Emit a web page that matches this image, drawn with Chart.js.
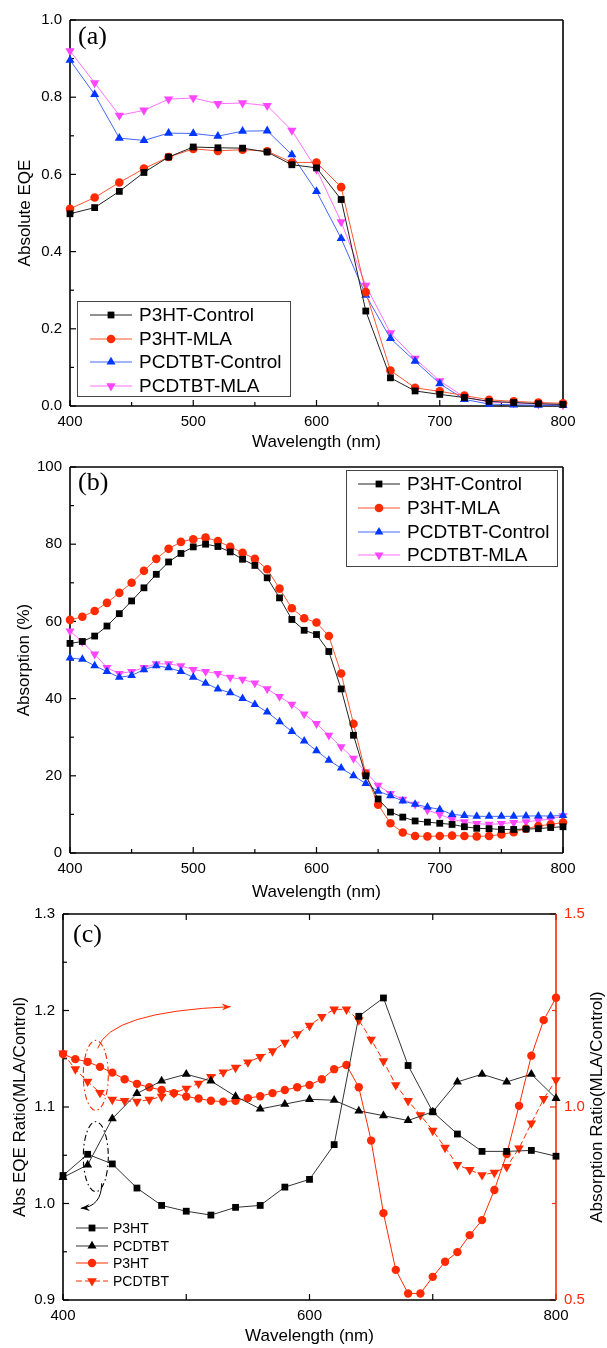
<!DOCTYPE html>
<html><head><meta charset="utf-8">
<script src="https://cdn.jsdelivr.net/npm/chart.js@4.4.1/dist/chart.umd.min.js"></script>
<style>
html,body{margin:0;padding:0;background:#fff;}
body{width:607px;height:1348px;position:relative;overflow:hidden;}
canvas{position:absolute;left:0;}
</style></head><body>
<canvas id="ca" style="top:0px" width="607" height="460"></canvas>
<canvas id="cb" style="top:447px" width="607" height="460"></canvas>
<canvas id="cc" style="top:894px" width="607" height="454"></canvas>
<script>
// ---------------- DATA ----------------
const wl20 = [400,420,440,460,480,500,520,540,560,580,600,620,640,660,680,700,720,740,760,780,800];
const wl10 = [400,410,420,430,440,450,460,470,480,490,500,510,520,530,540,550,560,570,580,590,600,
              610,620,630,640,650,660,670,680,690,700,710,720,730,740,750,760,770,780,790,800];

const namesAB = ['P3HT-Control','P3HT-MLA','PCDTBT-Control','PCDTBT-MLA'];
const namesC = ['P3HT','PCDTBT','P3HT','PCDTBT'];

// (a) Absolute EQE
const eqeP3HTControl   = [0.498,0.514,0.556,0.605,0.645,0.671,0.669,0.668,0.658,0.625,0.617,0.535,0.246,0.073,0.039,0.030,0.022,0.012,0.009,0.006,0.004];
const eqeP3HTMLA       = [0.511,0.540,0.579,0.615,0.645,0.666,0.661,0.664,0.660,0.631,0.631,0.567,0.295,0.092,0.047,0.038,0.027,0.016,0.012,0.009,0.007];
const eqePCDTBTControl = [0.896,0.807,0.694,0.688,0.707,0.706,0.699,0.712,0.713,0.651,0.556,0.434,0.287,0.175,0.116,0.058,0.017,0.005,0.003,0.002,0.002];
const eqePCDTBTMLA     = [0.920,0.837,0.753,0.766,0.795,0.798,0.783,0.785,0.778,0.714,0.613,0.477,0.312,0.189,0.123,0.065,0.023,0.010,0.008,0.005,0.003];

// (b) Absorption (%)
const absP3HTControl   = [54.3,54.8,56.2,58.8,62.0,65.3,68.7,72.2,75.4,77.6,79.3,80.0,79.4,78.0,76.1,74.5,71.3,66.1,60.5,57.7,56.6,
                          52.2,42.5,30.5,20.0,14.0,10.6,9.3,8.3,8.0,7.7,7.4,6.8,6.4,6.3,6.1,6.1,6.2,6.3,6.6,6.8];
const absP3HTMLA       = [60.4,61.2,62.7,64.8,67.4,70.0,73.1,76.2,78.8,80.6,81.3,81.7,80.8,79.3,77.8,76.2,73.5,68.5,63.4,60.8,59.7,
                          56.2,46.5,33.5,20.5,12.5,7.7,5.3,4.4,4.3,4.4,4.5,4.4,4.3,4.4,4.8,5.4,6.3,7.0,7.4,7.9];
const absPCDTBTControl = [50.5,50.2,48.5,47.0,45.5,46.0,47.5,48.5,48.0,47.0,45.5,44.0,42.5,41.5,40.0,38.5,36.5,34.0,31.5,29.0,26.5,
                          24.0,22.0,20.0,18.0,16.0,14.8,13.5,12.6,11.9,11.3,10.0,9.7,9.5,9.5,9.5,9.5,9.6,9.6,9.6,9.7];
const absPCDTBTMLA     = [57.5,54.7,51.5,48.0,46.5,47.0,48.0,49.0,49.0,48.5,47.5,47.0,46.5,45.5,45.0,44.0,42.5,40.5,38.5,36.0,33.5,
                          30.5,27.5,24.5,21.0,17.5,15.4,13.9,12.6,11.1,10.0,8.7,8.1,7.6,7.4,7.6,7.9,8.1,8.4,8.8,9.6];

// (c) Ratios (MLA/Control)
const ratioEqeP3HT   = [1.029,1.051,1.041,1.016,0.998,0.992,0.988,0.996,0.998,1.017,1.025,1.061,1.194,1.213,1.143,1.095,1.072,1.054,1.054,1.055,1.049];
const ratioEqePCDTBT = [1.027,1.040,1.088,1.114,1.127,1.134,1.127,1.111,1.098,1.103,1.108,1.107,1.096,1.091,1.086,1.095,1.126,1.134,1.126,1.134,1.109];
const ratioAbsP3HT   = [1.137,1.124,1.117,1.104,1.089,1.072,1.060,1.051,1.044,1.036,1.027,1.022,1.016,1.014,1.016,1.023,1.028,1.036,1.044,1.051,1.057,
                        1.072,1.098,1.109,1.051,0.913,0.725,0.578,0.517,0.517,0.560,0.599,0.624,0.668,0.707,0.785,0.878,1.003,1.133,1.225,1.283];
const ratioAbsPCDTBT = [1.139,1.098,1.066,1.037,1.019,1.016,1.014,1.019,1.027,1.036,1.048,1.061,1.078,1.090,1.102,1.116,1.130,1.145,1.167,1.189,1.211,
                        1.234,1.253,1.253,1.225,1.175,1.119,1.057,1.016,0.979,0.939,0.895,0.850,0.837,0.824,0.830,0.845,0.893,0.958,1.021,1.070];

// ---------------- STYLE ----------------
const FONT = "'Liberation Sans', Arial, sans-serif";
const SERIF = "'Liberation Serif', 'Times New Roman', serif";
const RED = '#FF2A00', BLUE = '#0036FF', PINK = '#FF45FF', BLACK = '#000000';
Chart.defaults.font.family = FONT;
Chart.defaults.color = '#000';

function mk(label, xs, ys, color, lineColor, style, r, rot, dash, axis) {
  return {
    label, data: xs.map((x, i) => ({x: x, y: ys[i]})),
    borderColor: lineColor, backgroundColor: color,
    pointBackgroundColor: color, pointBorderColor: color, pointBorderWidth: 0,
    pointStyle: style, pointRadius: r, pointHoverRadius: r, pointRotation: rot || 0,
    borderWidth: 1, borderDash: dash || [], tension: 0, clip: false, fill: false,
    yAxisID: axis || 'y'
  };
}

function drawMarker(ctx, style, rot, x, y, r, color) {
  ctx.save();
  ctx.fillStyle = color;
  ctx.beginPath();
  if (style === 'rect') {
    const s = r * Math.SQRT1_2;
    ctx.rect(x - s, y - s, 2 * s, 2 * s);
  } else if (style === 'circle') {
    ctx.arc(x, y, r, 0, Math.PI * 2);
  } else if (style === 'triangle') {
    let a = (rot || 0) * Math.PI / 180;
    ctx.moveTo(x + Math.sin(a) * r, y - Math.cos(a) * r);
    a += 2 * Math.PI / 3;
    ctx.lineTo(x + Math.sin(a) * r, y - Math.cos(a) * r);
    a += 2 * Math.PI / 3;
    ctx.lineTo(x + Math.sin(a) * r, y - Math.cos(a) * r);
    ctx.closePath();
  }
  ctx.fill();
  ctx.restore();
}

// frame + inward ticks
const decor = {
  id: 'decor',
  beforeDatasetsDraw(chart, args, o) {
    const ctx = chart.ctx, a = chart.chartArea;
    ctx.save();
    (o.ticks || []).forEach(t => {
      const sc = chart.scales[t.scale];
      ctx.strokeStyle = t.color || '#000';
      ctx.lineWidth = 1.2;
      const n = Math.round((sc.max - sc.min) / t.step);
      for (let i = 0; i <= n; i++) {
        const v = sc.min + i * t.step;
        const q = v / t.major;
        const major = Math.abs(q - Math.round(q)) < 1e-6;
        const len = major ? 6 : 4;
        const p = sc.getPixelForValue(v);
        ctx.beginPath();
        if (t.side === 'left') { ctx.moveTo(a.left, p); ctx.lineTo(a.left + len, p); }
        else if (t.side === 'right') { ctx.moveTo(a.right, p); ctx.lineTo(a.right - len, p); }
        else if (t.side === 'bottom') { ctx.moveTo(p, a.bottom); ctx.lineTo(p, a.bottom - len); }
        else { ctx.moveTo(p, a.top); ctx.lineTo(p, a.top + len); }
        ctx.stroke();
      }
    });
    const f = o.frame || {};
    ctx.lineWidth = 1.6;
    const seg = (c, x1, y1, x2, y2) => { ctx.strokeStyle = c; ctx.beginPath(); ctx.moveTo(x1, y1); ctx.lineTo(x2, y2); ctx.stroke(); };
    seg(f.top || '#000', a.left, a.top, a.right, a.top);
    seg(f.bottom || '#000', a.left, a.bottom, a.right, a.bottom);
    seg(f.left || '#000', a.left, a.top, a.left, a.bottom);
    seg(f.right || '#000', a.right, a.top, a.right, a.bottom);
    ctx.restore();
  },
  afterDatasetsDraw(chart, args, o) {
    const ctx = chart.ctx, a = chart.chartArea;
    ctx.save();
    if (o.panel) {
      ctx.font = '26px ' + SERIF;
      ctx.fillStyle = '#000';
      ctx.textBaseline = 'middle';
      ctx.textAlign = 'left';
      ctx.fillText(o.panel.text, a.left + o.panel.dx, a.top + o.panel.dy);
    }
    if (o.rightTitle) {
      ctx.font = '17px ' + FONT;
      ctx.fillStyle = '#000';
      ctx.textAlign = 'center';
      ctx.textBaseline = 'middle';
      ctx.translate(o.rightTitle.x, (a.top + a.bottom) / 2);
      ctx.rotate(-Math.PI / 2);
      ctx.fillText(o.rightTitle.text, 0, 0);
    }
    ctx.restore();
    // legend
    const L = o.legend;
    if (L) {
      ctx.save();
      if (L.box) { ctx.strokeStyle = '#444'; ctx.lineWidth = 1; ctx.strokeRect(L.box[0] + 0.5, L.box[1] + 0.5, L.box[2], L.box[3]); }
      ctx.font = L.font;
      ctx.textBaseline = 'middle';
      ctx.textAlign = 'left';
      chart.data.datasets.forEach((d, i) => {
        const y = L.rows[i];
        ctx.strokeStyle = d.borderColor; ctx.lineWidth = 1;
        ctx.setLineDash(d.borderDash || []);
        ctx.beginPath(); ctx.moveTo(L.x0, y); ctx.lineTo(L.x1, y); ctx.stroke();
        ctx.setLineDash([]);
        drawMarker(ctx, d.pointStyle, d.pointRotation, (L.x0 + L.x1) / 2, y, d.pointRadius, d.pointBackgroundColor);
        ctx.fillStyle = '#000';
        ctx.fillText(d.label, L.tx, y + 1);
      });
      ctx.restore();
    }
    // annotations
    (o.ellipses || []).forEach(e => {
      const xs = chart.scales.x, ys = chart.scales[e.scale];
      ctx.save();
      ctx.strokeStyle = e.color; ctx.lineWidth = 1.1; ctx.setLineDash([6, 3, 1.5, 3]);
      ctx.beginPath();
      ctx.ellipse(xs.getPixelForValue(e.x), ys.getPixelForValue(e.y), e.rx, e.ry, 0, 0, Math.PI * 2);
      ctx.stroke();
      ctx.restore();
    });
    (o.arrows || []).forEach(r => {
      const xs = chart.scales.x, ys = chart.scales[r.scale];
      const P = p => [xs.getPixelForValue(p[0]), ys.getPixelForValue(p[1])];
      const s = P(r.from), c = P(r.ctrl), e = P(r.to);
      ctx.save();
      ctx.strokeStyle = r.color; ctx.fillStyle = r.color; ctx.lineWidth = 1;
      ctx.beginPath(); ctx.moveTo(s[0], s[1]); ctx.quadraticCurveTo(c[0], c[1], e[0], e[1]); ctx.stroke();
      const ang = Math.atan2(e[1] - c[1], e[0] - c[0]);
      ctx.beginPath();
      ctx.moveTo(e[0], e[1]);
      ctx.lineTo(e[0] - 9 * Math.cos(ang) + 3.5 * Math.sin(ang), e[1] - 9 * Math.sin(ang) - 3.5 * Math.cos(ang));
      ctx.lineTo(e[0] - 6 * Math.cos(ang), e[1] - 6 * Math.sin(ang));
      ctx.lineTo(e[0] - 9 * Math.cos(ang) - 3.5 * Math.sin(ang), e[1] - 9 * Math.sin(ang) + 3.5 * Math.cos(ang));
      ctx.closePath(); ctx.fill();
      ctx.restore();
    });
  }
};

const tickFont = {family: FONT, size: 15};
const titleFont = {family: FONT, size: 17};

function xScale(step, h, pb) {
  return {
    type: 'linear', position: 'bottom', min: 400, max: 800,
    ticks: {stepSize: step, font: tickFont, color: '#000', padding: 7, maxRotation: 0, autoSkip: false, callback: v => String(v)},
    grid: {display: false, drawTicks: false}, border: {display: false},
    title: {display: true, text: 'Wavelength (nm)', font: titleFont, color: '#000', padding: {top: 0, bottom: pb}},
    afterFit(s) { s.height = h; }
  };
}
function yScale(min, max, step, dec, title, w, tp, pos, color) {
  return {
    type: 'linear', position: pos || 'left', min: min, max: max,
    ticks: {stepSize: step, font: tickFont, color: color || '#000', padding: 8, callback: v => Number(v).toFixed(dec)},
    grid: {display: false, drawTicks: false}, border: {display: false},
    title: {display: !!title, text: title || '', font: titleFont, color: '#000', padding: {top: tp, bottom: 0}},
    afterFit(s) { s.width = w; }
  };
}

const common = {responsive: false, animation: false, events: []};

// ---------------- (a) ----------------
new Chart(document.getElementById('ca'), {
  type: 'line',
  data: {datasets: [
    mk(namesAB[0], wl20, eqeP3HTControl, BLACK, '#222', 'rect', 4.8),
    mk(namesAB[1], wl20, eqeP3HTMLA, RED, '#FF5530', 'circle', 4.3),
    mk(namesAB[2], wl20, eqePCDTBTControl, BLUE, '#4466FF', 'triangle', 5.2),
    mk(namesAB[3], wl20, eqePCDTBTMLA, PINK, '#FF70FF', 'triangle', 5.4, 180)
  ]},
  options: Object.assign({}, common, {
    layout: {padding: {left: 0, right: 44, top: 20, bottom: 0}},
    scales: {x: xScale(100, 54, 7), y: yScale(0, 1, 0.2, 1, 'Absolute EQE', 70, 15)},
    plugins: {legend: {display: false}, tooltip: {enabled: false},
      decor: {
        ticks: [{scale: 'x', side: 'bottom', step: 50, major: 100}, {scale: 'y', side: 'left', step: 0.1, major: 0.2}],
        panel: {text: '(a)', dx: 8, dy: 17},
        legend: {box: [77, 301, 213, 95], rows: [315, 339, 362, 386], x0: 90, x1: 132, tx: 139, font: '19px ' + FONT}
      }}
  }),
  plugins: [decor]
});

// ---------------- (b) ----------------
new Chart(document.getElementById('cb'), {
  type: 'line',
  data: {datasets: [
    mk(namesAB[0], wl10, absP3HTControl, BLACK, '#222', 'rect', 4.8),
    mk(namesAB[1], wl10, absP3HTMLA, RED, '#FF5530', 'circle', 4.3),
    mk(namesAB[2], wl10, absPCDTBTControl, BLUE, '#4466FF', 'triangle', 5.0),
    mk(namesAB[3], wl10, absPCDTBTMLA, PINK, '#FF70FF', 'triangle', 5.2, 180)
  ]},
  options: Object.assign({}, common, {
    layout: {padding: {left: 0, right: 44, top: 20, bottom: 0}},
    scales: {x: xScale(100, 54, 4), y: yScale(0, 100, 20, 0, 'Absorption (%)', 70, 14)},
    plugins: {legend: {display: false}, tooltip: {enabled: false},
      decor: {
        ticks: [{scale: 'x', side: 'bottom', step: 50, major: 100}, {scale: 'y', side: 'left', step: 10, major: 20}],
        panel: {text: '(b)', dx: 8, dy: 16},
        legend: {box: [346, 23, 211, 96], rows: [37, 61, 85, 108], x0: 358, x1: 400, tx: 407, font: '19px ' + FONT}
      }}
  }),
  plugins: [decor]
});

// ---------------- (c) ----------------
new Chart(document.getElementById('cc'), {
  type: 'line',
  data: {datasets: [
    mk(namesC[0], wl20, ratioEqeP3HT, BLACK, '#333', 'rect', 4.8, 0, [], 'y'),
    mk(namesC[1], wl20, ratioEqePCDTBT, BLACK, '#333', 'triangle', 5.2, 0, [], 'y'),
    mk(namesC[2], wl10, ratioAbsP3HT, RED, RED, 'circle', 4.2, 0, [], 'y2'),
    mk(namesC[3], wl10, ratioAbsPCDTBT, RED, RED, 'triangle', 5.6, 180, [6, 3], 'y2')
  ]},
  options: Object.assign({}, common, {
    layout: {padding: {left: 0, right: 0, top: 20, bottom: 0}},
    scales: {
      x: xScale(200, 48, 1),
      y: yScale(0.9, 1.3, 0.1, 1, 'Abs EQE Ratio(MLA/Control)', 63, 10),
      y2: yScale(0.5, 1.5, 0.5, 1, '', 51, 0, 'right', RED)
    },
    plugins: {legend: {display: false}, tooltip: {enabled: false},
      decor: {
        ticks: [
          {scale: 'x', side: 'bottom', step: 100, major: 100},
          {scale: 'x', side: 'top', step: 100, major: 100},
          {scale: 'y', side: 'left', step: 0.05, major: 0.1},
          {scale: 'y2', side: 'right', step: 0.25, major: 0.5, color: RED}
        ],
        frame: {right: RED},
        panel: {text: '(c)', dx: 10, dy: 21},
        rightTitle: {text: 'Absorption Ratio(MLA/Control)', x: 597},
        legend: {rows: [334, 352, 369, 387], x0: 76, x1: 108, tx: 113, font: '14px ' + FONT},
        ellipses: [
          {scale: 'y2', x: 426.6, y: 1.082, rx: 12.5, ry: 35, color: RED},
          {scale: 'y', x: 426.6, y: 1.0485, rx: 12.5, ry: 35, color: '#000'}
        ],
        arrows: [
          {scale: 'y2', from: [428.1, 1.152], ctrl: [438.1, 1.247], to: [536.1, 1.260], color: RED},
          {scale: 'y', from: [431.4, 1.021], ctrl: [431.4, 0.997], to: [414.4, 0.995], color: '#000'}
        ]
      }}
  }),
  plugins: [decor]
});
</script>
</body></html>
